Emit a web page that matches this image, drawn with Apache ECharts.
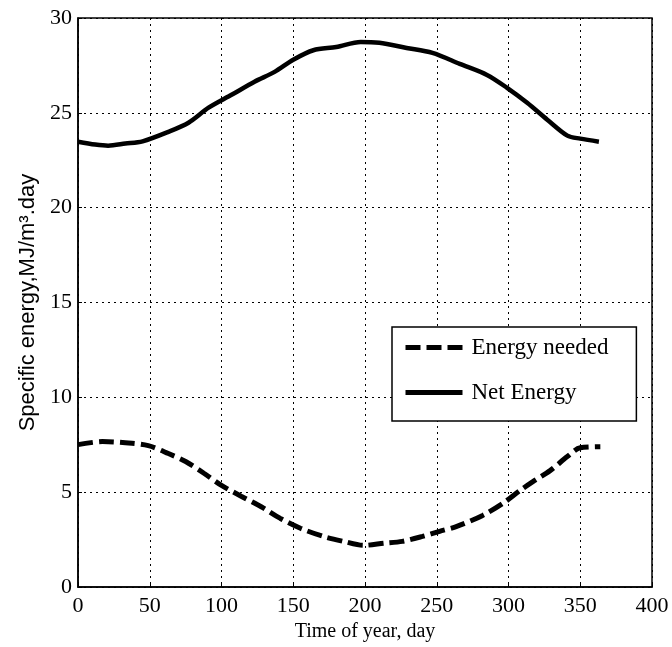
<!DOCTYPE html>
<html>
<head>
<meta charset="utf-8">
<script src="https://cdn.jsdelivr.net/npm/echarts@6/dist/echarts.min.js"></script>
<style>
html,body{margin:0;padding:0;background:#fff;}
#chart{width:672px;height:647px;}
</style>
</head>
<body>
<div id="chart"></div>
<script>
// days and values
var netDays = [0, 12, 21, 33, 45, 63, 77, 91, 107, 123, 137, 150, 164, 180, 197, 210, 229, 247, 266, 285, 299, 313, 327, 341, 350, 363];
var netEnergy = [23.48, 23.33, 23.27, 23.38, 23.5, 24.0, 24.48, 25.27, 25.95, 26.64, 27.16, 27.8, 28.3, 28.47, 28.74, 28.69, 28.42, 28.16, 27.58, 27.0, 26.32, 25.53, 24.64, 23.8, 23.64, 23.48];
var neededDays = [0, 17, 33, 49, 63, 75, 88, 100, 114, 128, 141, 155, 171, 185, 199, 213, 226, 240, 252, 264, 282, 296, 308, 317, 329, 341, 350, 364];
var energyNeeded = [7.51, 7.67, 7.61, 7.46, 7.04, 6.62, 5.99, 5.36, 4.78, 4.22, 3.62, 3.1, 2.67, 2.41, 2.2, 2.31, 2.41, 2.67, 2.94, 3.2, 3.78, 4.41, 5.09, 5.56, 6.14, 6.88, 7.35, 7.4];
var seriesNames = ['Energy needed', 'Net Energy'];

function pairs(xs, ys){
    return xs.map(function(x, i){ return [x, ys[i]]; });
}

var serif = 'Liberation Serif';
var chart = echarts.init(document.getElementById('chart'));
var option = {
    animation: false,
    backgroundColor: '#fff',
    grid: {
        left: 78, right: 20, top: 18, bottom: 58,
        show: true, borderColor: '#000', borderWidth: 1.5
    },
    legend: {
        data: [
            {name: seriesNames[0], lineStyle: {width: 5, type: [15, 6]}},
            {name: seriesNames[1]}
        ],
        orient: 'vertical',
        left: 392, top: 327,
        itemWidth: 57, itemHeight: 20, itemGap: 22,
        padding: [9, 28, 17, 11],
        backgroundColor: '#fff',
        borderColor: '#000', borderWidth: 1.5, borderRadius: 0,
        itemStyle: {opacity: 0},
        lineStyle: {width: 5},
        textStyle: {fontFamily: serif, fontSize: 23, color: '#000', padding: [0, 0, 0, 4]}
    },
    xAxis: {
        type: 'value', min: 0, max: 400, interval: 50,
        name: 'Time of year, day', nameLocation: 'middle', nameGap: 33,
        nameTextStyle: {fontFamily: serif, fontSize: 20, color: '#000'},
        axisLine: {lineStyle: {color: '#000', width: 1.5}},
        axisTick: {inside: true, length: 4, lineStyle: {color: '#000'}},
        axisLabel: {fontFamily: serif, fontSize: 22, color: '#000', margin: 8},
        splitLine: {lineStyle: {color: '#000', type: [2, 4], width: 1}}
    },
    yAxis: {
        type: 'value', min: 0, max: 30, interval: 5,
        name: 'Specific energy,MJ/m³.day', nameLocation: 'middle', nameGap: 34,
        nameTextStyle: {fontFamily: 'Liberation Sans', fontSize: 22, color: '#000'},
        axisLine: {lineStyle: {color: '#000', width: 1.5}},
        axisTick: {inside: true, length: 4, lineStyle: {color: '#000'}},
        axisLabel: {fontFamily: serif, fontSize: 22, color: '#000', margin: 6},
        splitLine: {lineStyle: {color: '#000', type: [2, 4], width: 1}}
    },
    series: [
        {
            name: seriesNames[0],
            type: 'line',
            data: pairs(neededDays, energyNeeded),
            smooth: 0.3,
            symbol: 'none',
            lineStyle: {color: '#000', width: 5, type: [15, 6]},
            itemStyle: {color: '#000'}
        },
        {
            name: seriesNames[1],
            type: 'line',
            data: pairs(netDays, netEnergy),
            smooth: 0.3,
            symbol: 'none',
            lineStyle: {color: '#000', width: 4.5},
            itemStyle: {color: '#000'}
        }
    ]
};
chart.setOption(option);
</script>
</body>
</html>
